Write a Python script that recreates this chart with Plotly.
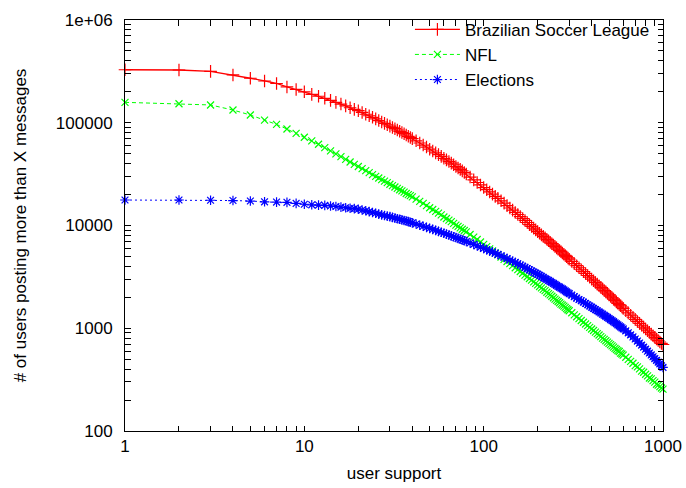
import plotly.graph_objects as go

x_support = [1, 2, 3, 4, 5, 6, 7, 8, 9, 10, 11, 12, 13, 14, 15, 16, 17, 18, 19, 20,
             21, 22, 23, 24, 25, 26, 27, 28, 29, 30, 31, 32, 33, 34, 35, 36, 37, 38, 39, 40,
             42, 44, 46, 48, 50, 52, 54, 56, 58, 60, 62, 64, 66, 68, 70, 72, 74, 76, 78, 80,
             84, 88, 92, 96, 100, 104, 108, 112, 116, 120,
             125, 130, 135, 140, 145, 150, 155, 160, 165, 170, 175, 180, 185, 190, 195, 200,
             205, 210, 215, 220, 225, 230, 235, 240, 245, 250, 255, 260, 265, 270, 275, 280,
             285, 290, 295, 300,
             310, 320, 330, 340, 350, 360, 370, 380, 390, 400, 410, 420, 430, 440, 450,
             460, 470, 480, 490, 500, 510, 520, 530, 540, 550, 560, 570, 580, 590, 600,
             620, 640, 660, 680, 700, 720, 740, 760, 780, 800, 820, 840, 860, 880, 900,
             920, 940, 960, 980, 1000]

brazilian = [328000, 326000, 316000, 292000, 271000, 255000, 241000, 223000, 211000, 200000,
             189000, 181000, 173000, 165000, 158000, 152000, 146000, 140000, 135000, 131000,
             126000, 121000, 117000, 113000, 109000, 105000, 101700, 98600, 95600, 92700,
             90000, 87500, 85000, 82600, 80300, 78200, 76000, 73800, 71900, 70000,
             66700, 63500, 60700, 58000, 55300, 53100, 50900, 49000, 47100, 45100,
             43500, 41900, 40500, 39000, 37500, 36300, 35200, 34000, 32800, 31700,
             29600, 27800, 26200, 24800, 23400, 22300, 21200, 20200, 19200, 18400,
             17400, 16500, 15600, 14800, 14100, 13400, 12800, 12200, 11700, 11200,
             10700, 10200, 9800, 9420, 9060, 8710, 8400, 8110, 7840, 7590,
             7340, 7100, 6870, 6650, 6450, 6250, 6060, 5870, 5710, 5560,
             5400, 5250, 5110, 4970, 4830, 4700,
             4470, 4260, 4060, 3880, 3710, 3550, 3410, 3260, 3140, 3010,
             2900, 2790, 2690, 2590, 2500, 2420, 2330, 2260, 2190, 2110,
             2050, 1980, 1920, 1870, 1800, 1750, 1700, 1655, 1610, 1560,
             1480, 1410, 1340, 1280, 1220, 1165, 1115, 1070, 1025, 984,
             946, 911, 877, 845, 815, 787, 760, 735, 711, 695]

nfl = [158000, 153000, 149000, 133000, 119000, 106000, 96400, 86900, 78900, 72200,
       66700, 61800, 57300, 53300, 49800, 46800, 44000, 41500, 39400, 37500,
       35800, 34200, 32700, 31300, 30100, 29000, 28000, 27000, 26100, 25200,
       24400, 23700, 23000, 22300, 21700, 21100, 20500, 20000, 19500, 19000,
       18050, 17200, 16400, 15600, 14900, 14300, 13700, 13200, 12700, 12100,
       11700, 11300, 10900, 10500, 10100, 9790, 9490, 9200, 8940, 8680,
       8180, 7720, 7300, 6910, 6550, 6230, 5930, 5660, 5415, 5190,
       4930, 4680, 4460, 4260, 4070, 3880, 3720, 3570, 3430, 3290,
       3170, 3050, 2940, 2830, 2730, 2640, 2550, 2470, 2390, 2320,
       2240, 2170, 2110, 2050, 1980, 1920, 1870, 1820, 1770, 1720,
       1680, 1640, 1595, 1550, 1515, 1480,
       1415, 1350, 1295, 1240, 1190, 1145, 1100, 1060, 1020, 984,
       950, 918, 888, 859, 828, 802, 778, 755, 733, 713,
       693, 674, 656, 638, 621, 605, 594, 572, 561, 547,
       522, 498, 476, 456, 432, 421, 402, 382, 373, 357,
       344, 328, 322, 309, 299, 285, 280, 270, 262, 256]

elections = [17700, 17700, 17600, 17500, 17300, 17000, 16900, 16800, 16400, 16100,
             15900, 15800, 15700, 15500, 15300, 15100, 14900, 14700, 14600, 14400,
             14150, 13900, 13650, 13400, 13150, 12900, 12700, 12500, 12350, 12200,
             12000, 11800, 11650, 11500, 11350, 11200, 11050, 10900, 10750, 10600,
             10330, 10070, 9825, 9590, 9370, 9160, 8960, 8770, 8585, 8410,
             8240, 8075, 7920, 7775, 7630, 7490, 7360, 7235, 7110, 6990,
             6765, 6550, 6355, 6165, 5990, 5825, 5665, 5515, 5375, 5240,
             5070, 4910, 4760, 4620, 4490, 4370, 4240, 4120, 4010, 3910,
             3805, 3710, 3615, 3520, 3440, 3360, 3280, 3200, 3125, 3050,
             2985, 2920, 2855, 2790, 2730, 2670, 2610, 2550, 2510, 2460,
             2415, 2360, 2310, 2260, 2215, 2170,
             2100, 2030, 1967, 1905, 1850, 1795, 1745, 1695, 1648, 1604,
             1561, 1520, 1481, 1443, 1406, 1371, 1338, 1305, 1275, 1244,
             1215, 1186, 1159, 1132, 1105, 1080, 1056, 1032, 1009, 986,
             943, 902, 862, 823, 786, 750, 717, 685, 655, 626,
             598, 574, 550, 528, 507, 487, 468, 450, 432, 416]

for _s in (brazilian, nfl, elections):
    assert len(_s) == len(x_support), (len(_s), len(x_support))

# decade tick labels
x_decades = [1, 10, 100, 1000]
x_decade_text = ["1", "10", "100", "1000"]
y_decades = [100, 1000, 10000, 100000, 1000000]
y_decade_text = ["100", "1000", "10000", "100000", "1e+06"]

# every log-axis tick (decades carry labels, the 2..9 multiples are unlabeled)
x_tick_vals, x_tick_text = [], []
for d, t in zip(x_decades, x_decade_text):
    x_tick_vals.append(d)
    x_tick_text.append(t)
    if d < x_decades[-1]:
        for m in range(2, 10):
            x_tick_vals.append(m * d)
            x_tick_text.append("")
y_tick_vals, y_tick_text = [], []
for d, t in zip(y_decades, y_decade_text):
    y_tick_vals.append(d)
    y_tick_text.append(t)
    if d < y_decades[-1]:
        for m in range(2, 10):
            y_tick_vals.append(m * d)
            y_tick_text.append("")

FONT = "Liberation Sans, Arial, Helvetica, sans-serif"
X_RANGE = [0, 3]
Y_RANGE = [2, 6]

fig = go.Figure()
fig.add_trace(go.Scatter(
    x=x_support, y=brazilian, name="Brazilian Soccer League", mode="lines+markers",
    line=dict(color="#ff0000", width=1.3), cliponaxis=False,
    marker=dict(symbol="cross-thin-open", size=9, line=dict(color="#ff0000", width=1.2)),
))
fig.add_trace(go.Scatter(
    x=x_support, y=nfl, name="NFL", mode="lines+markers",
    line=dict(color="#00ff00", width=1, dash="4px,3px"), cliponaxis=False,
    marker=dict(symbol="x-thin-open", size=7, line=dict(color="#00ff00", width=1.2)),
))
fig.add_trace(go.Scatter(
    x=x_support, y=elections, name="Elections", mode="lines+markers",
    line=dict(color="#0000ff", width=1, dash="2px,3px"), cliponaxis=False,
    marker=dict(symbol="asterisk-open", size=8, line=dict(color="#0000ff", width=1.2)),
))

axis_common = dict(
    type="log", showline=True, linecolor="black", linewidth=1, mirror="ticks",
    ticks="inside", ticklen=5.5, tickcolor="black", tickwidth=1.2,
    showgrid=False, zeroline=False, automargin=False, layer="above traces",
    tickfont=dict(family=FONT, size=17, color="black"),
)

fig.update_layout(
    template="none",
    xaxis=dict(**axis_common, range=X_RANGE, tickmode="array",
               tickvals=x_tick_vals, ticktext=x_tick_text,
               title=dict(text="user support", font=dict(family=FONT, size=17, color="black"),
                          standoff=11)),
    yaxis=dict(**axis_common, range=Y_RANGE, tickmode="array",
               tickvals=y_tick_vals, ticktext=y_tick_text,
               ticklabelstandoff=8,
               title=dict(text="# of users posting more than X messages",
                          font=dict(family=FONT, size=17, color="black"), standoff=24)),
)

fig.update_layout(
    width=686, height=488,
    margin=dict(l=125, r=23, t=15, b=57),
    paper_bgcolor="white", plot_bgcolor="white",
    font=dict(family=FONT, size=17, color="black"),
    showlegend=True,
    legend=dict(x=0.985, y=1.02, xanchor="right", yanchor="top", bgcolor="rgba(0,0,0,0)",
                font=dict(family=FONT, size=17, color="black"), tracegroupgap=0,
                itemwidth=45),
)

fig.write_html("out.html")
